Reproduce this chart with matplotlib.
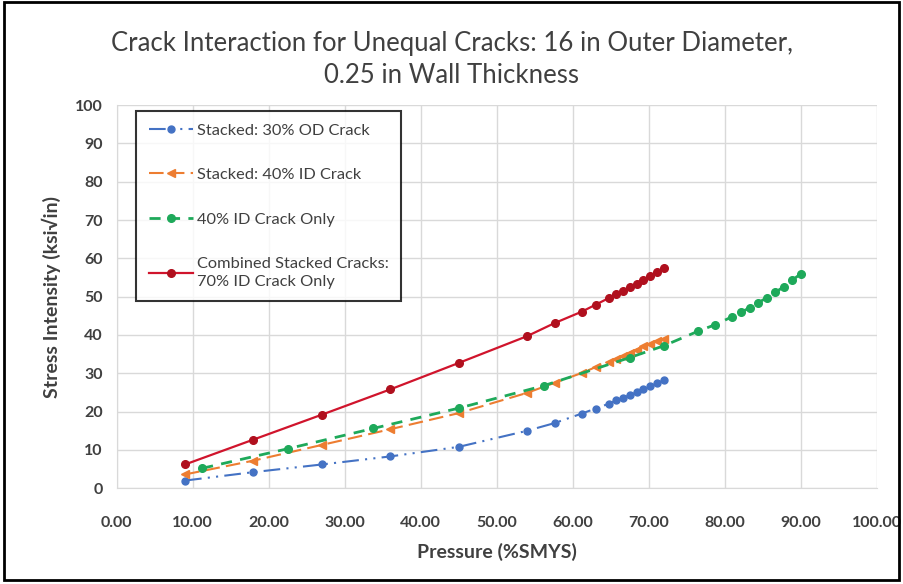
import matplotlib
matplotlib.use("Agg")
import matplotlib.pyplot as plt
from matplotlib.patches import Rectangle
from matplotlib.ticker import FormatStrFormatter, MultipleLocator

plt.rcParams['font.family'] = ['Lato', 'DejaVu Sans']

# --- DATA ------------------------------- #
p_stacked = [9, 18, 27, 36, 45, 54, 57.6, 61.2, 63, 64.8,
             65.7, 66.6, 67.5, 68.4, 69.3, 70.2, 71.1, 72]
k_od30 = [2.0, 4.2, 6.2, 8.3, 10.8, 15.0, 17.0, 19.5, 20.8, 22.1,
          22.9, 23.6, 24.3, 25.0, 25.8, 26.6, 27.4, 28.2]
k_id40 = [3.6, 7.2, 11.3, 15.4, 19.6, 24.9, 27.5, 30.1, 31.6, 33.0,
          33.8, 34.6, 35.4, 36.2, 37.0, 37.7, 38.4, 39.0]
k_combined = [6.2, 12.7, 19.2, 25.8, 32.7, 39.7, 43.1, 46.1, 47.9, 49.7,
              50.6, 51.5, 52.4, 53.4, 54.4, 55.4, 56.4, 57.5]

p_only = [11.25, 22.5, 33.75, 45, 56.25, 67.5, 72, 76.5, 78.75, 81,
          82.125, 83.25, 84.375, 85.5, 86.625, 87.75, 88.875, 90]
k_id40_only = [5.2, 10.3, 15.6, 20.9, 26.8, 34.1, 37.2, 41.0, 42.7, 44.8,
               45.9, 47.1, 48.4, 49.7, 51.1, 52.6, 54.3, 56.0]

labels = ["Stacked: 30% OD Crack", "Stacked: 40% ID Crack",
          "40% ID Crack Only", "Combined Stacked Cracks:\n70% ID Crack Only"]
# ---------------------------------------- #

fig = plt.figure(figsize=(9.04, 5.84), dpi=100)
ax = fig.add_axes([0.129, 0.164, 0.841, 0.656])

ax.plot(p_stacked, k_od30, color="#4472C4", linestyle=(0, (8, 3, 1, 3, 1, 3)),
        linewidth=1.5, marker="o", markersize=5, label=labels[0])
ax.plot(p_stacked, k_id40, color="#ED7D31", linestyle=(0, (7, 3)),
        linewidth=1.5, marker="<", markersize=5.5, label=labels[1])
ax.plot(p_only, k_id40_only, color="#1EA95A", linestyle=(0, (4, 3)),
        linewidth=2, marker="o", markersize=5.5, label=labels[2])
ax.plot(p_stacked, k_combined, color="#D0142C", linestyle="-",
        linewidth=1.6, marker="o", markersize=5.5, markerfacecolor="#B0101E",
        markeredgecolor="#B0101E", label=labels[3])

ax.set_xlim(0, 100)
ax.set_ylim(0, 100)
ax.xaxis.set_major_locator(MultipleLocator(10))
ax.yaxis.set_major_locator(MultipleLocator(10))
ax.xaxis.set_major_formatter(FormatStrFormatter("%.2f"))
ax.grid(True, color="#D9D9D9", linewidth=1)
ax.set_axisbelow(True)
for side in ["top", "right"]:
    ax.spines[side].set_visible(False)
for side in ["left", "bottom"]:
    ax.spines[side].set_color("#D9D9D9")
ax.tick_params(length=0, labelsize=11.5, labelcolor="#404040")
ax.tick_params(axis="x", pad=20)
ax.tick_params(axis="y", pad=10)
for lab in ax.get_xticklabels() + ax.get_yticklabels():
    lab.set_fontweight("bold")

ax.set_xlabel("Pressure (%SMYS)", fontsize=14, fontweight="bold",
              color="#404040", labelpad=9)
ax.set_ylabel("Stress Intensity (ksi√in)", fontsize=14, fontweight="bold",
              color="#404040", labelpad=10)

fig.text(0.5, 0.898, "Crack Interaction for Unequal Cracks: 16 in Outer Diameter,\n0.25 in Wall Thickness",
         ha="center", va="center", fontsize=18.5, color="#404040", linespacing=1.35)

leg = ax.legend(loc="upper left", bbox_to_anchor=(0.026, 0.985), frameon=True,
                fancybox=False, edgecolor="black", fontsize=11.75,
                labelspacing=1.85, handlelength=2.7, borderpad=0.75,
                handletextpad=0.25, borderaxespad=0)
leg.get_frame().set_linewidth(1.5)
for t in leg.get_texts():
    t.set_color("#404040")
    t.set_linespacing(1.35)

fig.patches.append(Rectangle((0.004, 0.006), 0.99, 0.99, transform=fig.transFigure,
                             fill=False, edgecolor="black", linewidth=2))

fig.savefig("out.png", dpi=100)
